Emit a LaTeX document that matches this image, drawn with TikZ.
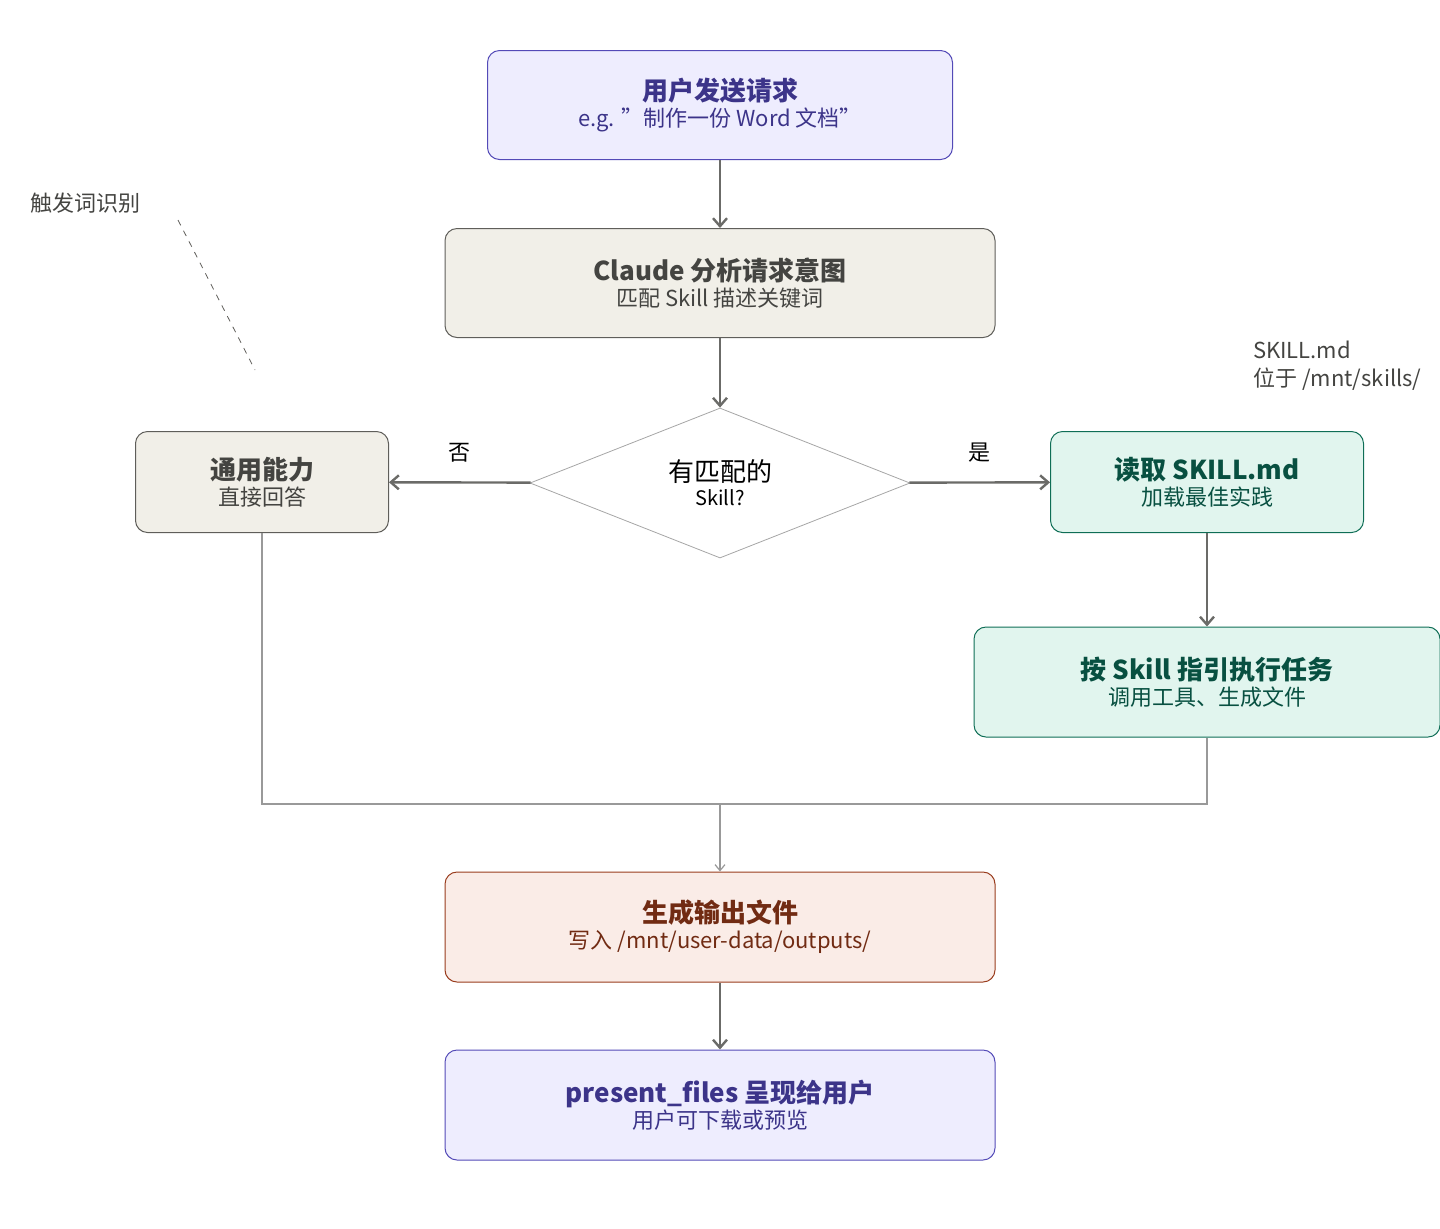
\documentclass[tikz,border=0pt]{standalone}
\usepackage{fontspec}
\setmainfont{Noto Sans CJK SC}
\usetikzlibrary{positioning,shapes.geometric,arrows.meta}
\definecolor{lavfill}{HTML}{EEEDFE}\definecolor{lavline}{HTML}{534AB7}\definecolor{lavtext}{HTML}{3C3489}
\definecolor{grfill}{HTML}{F1EFE8}\definecolor{grline}{HTML}{5F5E5A}\definecolor{grtext}{HTML}{444441}
\definecolor{tlfill}{HTML}{E1F5EE}\definecolor{tlline}{HTML}{0F6E56}\definecolor{tltext}{HTML}{085041}
\definecolor{cofill}{HTML}{FAECE7}\definecolor{coline}{HTML}{993C1D}\definecolor{cotext}{HTML}{712B13}
\definecolor{arrowc}{HTML}{6B6B68}
\tikzset{
  box/.style={draw, rounded corners=6pt, align=center, line width=0.5pt, inner sep=0pt},
  lav/.style={box, fill=lavfill, draw=lavline, text=lavtext},
  gry/.style={box, fill=grfill, draw=grline, text=grtext},
  tel/.style={box, fill=tlfill, draw=tlline, text=tltext},
  cor/.style={box, fill=cofill, draw=coline, text=cotext},
  flow/.style={draw=arrowc, line width=1.2pt, -{Straight Barb[length=4pt,width=7pt]}},
  merge/.style={draw=gray!80, line width=0.6pt},
}
\newcommand{\boxtext}[2]{{\fontsize{13}{16}\selectfont\bfseries #1}\\[1pt]{\fontsize{11}{13}\selectfont #2}}
\begin{document}
\begin{tikzpicture}[x=0.5pt,y=-0.5pt]
\useasboundingbox (0,0) rectangle (1440,1228);
% boxes
\node[lav, minimum width=232.5pt, minimum height=54.5pt] (req) at (720,105) {\boxtext{用户发送请求}{e.g. "制作一份 Word 文档"}};
\node[gry, minimum width=275pt, minimum height=54.5pt] (ana) at (720,283) {\boxtext{Claude 分析请求意图}{匹配 Skill 描述关键词}};
\node[diamond, draw=gray!70, line width=0.4pt, fill=white, minimum width=190pt, minimum height=75pt, inner sep=0pt, align=center, aspect=2.53] (dec) at (720,483) {\fontsize{13}{15}\selectfont 有匹配的\\Skill?};
\node[gry, minimum width=126.5pt, minimum height=50.5pt] (gen) at (262,482) {\boxtext{通用能力}{直接回答}};
\node[tel, minimum width=156.5pt, minimum height=50.5pt] (read) at (1207,482) {\boxtext{读取 SKILL.md}{加载最佳实践}};
\node[tel, minimum width=233pt, minimum height=55pt] (exec) at (1207,682) {\boxtext{按 Skill 指引执行任务}{调用工具、生成文件}};
\node[cor, minimum width=275pt, minimum height=55pt] (out) at (720,927) {\boxtext{生成输出文件}{写入 /mnt/user-data/outputs/}};
\node[lav, minimum width=275pt, minimum height=55pt] (pres) at (720,1105) {\boxtext{present\_files 呈现给用户}{用户可下载或预览}};
% notes
\node[text=grtext, font=\fontsize{11}{13}\selectfont\itshape] (trig) at (85,203) {触发词识别};
\coordinate (t1) at (178,220);
\coordinate (t2) at (255,370);
\draw[grline, dashed, line width=0.4pt] (t1) -- (t2);
\node[text=grtext, anchor=west, align=left, font=\fontsize{11}{14}\selectfont] (path) at (1246,366) {SKILL.md\\位于 /mnt/skills/};
% arrows
\draw[flow] (req) -- (ana);
\draw[flow] (ana) -- (dec);
\draw[flow] (dec) -- node[above=6pt, text=black, font=\fontsize{11}{13}\selectfont] (no) {否} (gen);
\draw[flow] (dec) -- node[above=6pt, text=black, font=\fontsize{11}{13}\selectfont] (yes) {是} (read);
\draw[flow] (read) -- (exec);
\draw[flow] (out) -- (pres);
% merge
\coordinate (mid) at (720,804);
\draw[merge] (gen.south) |- (mid) -| (exec.south);
\draw[merge, -{Straight Barb[length=3pt,width=5pt]}] (mid) -- (out.north);
\end{tikzpicture}
\end{document}
